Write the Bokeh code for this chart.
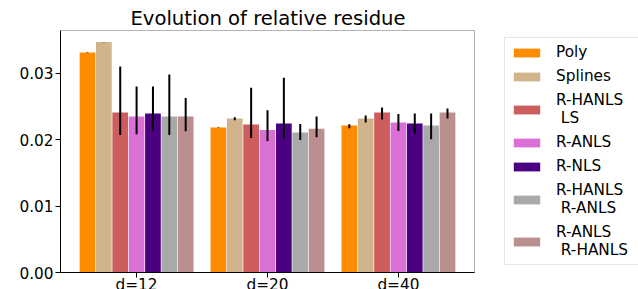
from bokeh.plotting import figure
from bokeh.models import (Range1d, FixedTicker, PrintfTickFormatter, ColumnDataSource, Legend,
                          LegendItem, LinearAxis, BoxAnnotation)
from bokeh.layouts import row
from bokeh.embed import file_html
from bokeh.resources import INLINE

categories = ["d=12", "d=20", "d=40"]
y_ticks = [0.0, 0.01, 0.02, 0.03]
x_lim = [-0.58125, 2.58125]
y_lim = [0.0, 0.03645]

series_names = ["Poly", "Splines", "R-HANLS\n LS", "R-ANLS", "R-NLS", "R-HANLS\n R-ANLS", "R-ANLS\n R-HANLS"]
series_colors = ["#FF8C00", "#D2B48C", "#CD5C5C", "#DA70D6", "#4B0082", "#A9A9A9", "#BC8F8F"]

poly = [0.03314, 0.02183, 0.02213]
poly_low = [0.03311, 0.02180, 0.02172]
poly_high = [0.03317, 0.02186, 0.02232]

splines = [0.03470, 0.02318, 0.02318]
splines_low = [0.03467, 0.02293, 0.02258]
splines_high = [0.03473, 0.02338, 0.02363]

rhanls_ls = [0.02409, 0.02228, 0.02409]
rhanls_ls_low = [0.02072, 0.02027, 0.02303]
rhanls_ls_high = [0.03103, 0.02781, 0.02484]

ranls = [0.02348, 0.02148, 0.02258]
ranls_low = [0.02081, 0.01982, 0.02133]
ranls_high = [0.02800, 0.02443, 0.02389]

rnls = [0.02394, 0.02243, 0.02243]
rnls_low = [0.02127, 0.02017, 0.02092]
rnls_high = [0.02800, 0.02932, 0.02394]

rhanls_ranls = [0.02348, 0.02107, 0.02213]
rhanls_ranls_low = [0.02072, 0.01997, 0.02006]
rhanls_ranls_high = [0.02982, 0.02238, 0.02394]

ranls_rhanls = [0.02348, 0.02167, 0.02409]
ranls_rhanls_low = [0.02127, 0.02036, 0.02318]
ranls_rhanls_high = [0.02630, 0.02348, 0.02469]

values = [poly, splines, rhanls_ls, ranls, rnls, rhanls_ranls, ranls_rhanls]
lows = [poly_low, splines_low, rhanls_ls_low, ranls_low, rnls_low, rhanls_ranls_low, ranls_rhanls_low]
highs = [poly_high, splines_high, rhanls_ls_high, ranls_high, rnls_high, rhanls_ranls_high, ranls_rhanls_high]

FONT = "DejaVu Sans"
n = len(series_names)
step = 0.125
bar_w = 0.12

# layout geometry (pixels)
W_MAIN, H = 503, 289
BOX_L, BOX_R, BOX_T, BOX_B = 60, 474, 30, 272
FRAME_R, FRAME_T = 475, 29

px_x = (BOX_R - BOX_L) / (x_lim[1] - x_lim[0])
px_y = (BOX_B - BOX_T) / (y_lim[1] - y_lim[0])
x_range = Range1d(x_lim[0], x_lim[1] + (FRAME_R - BOX_R) / px_x)
y_range = Range1d(y_lim[0] - (H - BOX_B) / px_y, y_lim[1] + (BOX_T - FRAME_T) / px_y)

# ---- main chart ----
p = figure(width=W_MAIN, height=H, output_backend="svg", toolbar_location=None,
           x_range=x_range, y_range=y_range, x_axis_location=None,
           min_border_left=BOX_L, min_border_right=W_MAIN - FRAME_R,
           min_border_top=FRAME_T, min_border_bottom=0)

p.title.text = "Evolution of relative residue"
p.title.text_font = FONT
p.title.text_font_size = "19.6px"
p.title.text_font_style = "normal"
p.title.align = "center"
p.title.standoff = 0
p.title.text_color = "black"

p.grid.visible = False
p.outline_line_color = None

xaxis = LinearAxis(fixed_location=y_lim[0], bounds=(x_lim[0], x_lim[1]),
                   ticker=FixedTicker(ticks=list(range(len(categories)))),
                   major_label_overrides={i: c for i, c in enumerate(categories)})
p.add_layout(xaxis, "below")

yaxis = p.yaxis[0]
yaxis.ticker = FixedTicker(ticks=y_ticks)
yaxis.formatter = PrintfTickFormatter(format="%.2f")
yaxis.bounds = (y_lim[0], y_lim[1])
for ax in (xaxis, yaxis):
    ax.major_label_text_font = FONT
    ax.major_label_text_font_size = "15.3px"
    ax.major_label_text_color = "black"
    ax.axis_line_color = "black"
    ax.major_tick_line_color = "black"
    ax.major_tick_out = 5
    ax.major_tick_in = 0
    ax.minor_tick_line_color = None
xaxis.major_label_standoff = -2
yaxis.major_label_standoff = 2

for i in range(n):
    xs = [c + (i - (n - 1) / 2) * step for c in range(len(categories))]
    src = ColumnDataSource(dict(x=xs, top=values[i]))
    p.vbar(x="x", top="top", width=bar_w, source=src, fill_color=series_colors[i], line_color=None)
for i in range(n):
    xs = [c + (i - (n - 1) / 2) * step for c in range(len(categories))]
    src = ColumnDataSource(dict(x=xs, low=lows[i], high=highs[i]))
    p.segment(x0="x", y0="low", x1="x", y1="high", source=src, line_color="black", line_width=2)

# axes box (spines)
p.add_layout(BoxAnnotation(left=x_lim[0], right=x_lim[1], bottom=y_lim[0], top=y_lim[1],
                           fill_alpha=0, line_color="black", line_width=1))

# ---- legend panel ----
q = figure(width=638 - W_MAIN, height=H, output_backend="svg", toolbar_location=None,
           x_range=Range1d(0, 1), y_range=Range1d(0, 1),
           x_axis_location=None, y_axis_location=None,
           min_border_left=0, min_border_right=0, min_border_top=FRAME_T, min_border_bottom=0)
q.outline_line_color = None
q.grid.visible = False
items = []
for i in range(n):
    r = q.vbar(x=[float("nan")], top=[float("nan")], width=0.1, fill_color=series_colors[i], line_color=None)
    items.append(LegendItem(label=series_names[i], renderers=[r]))

legend = Legend(items=items, location=(1, H - 265))
legend.label_text_font = FONT
legend.label_text_font_size = "15.3px"
legend.label_text_color = "black"
legend.glyph_width = 33
legend.glyph_height = 11
legend.label_standoff = 13
legend.label_width = 77
legend.padding = 5
legend.spacing = 6
legend.margin = 0
legend.border_line_color = "#cccccc"
legend.border_line_width = 1
legend.background_fill_color = "white"
legend.background_fill_alpha = 0.8
q.add_layout(legend, "center")

layout = row(p, q)
open("out.html", "w").write(file_html(layout, INLINE))
